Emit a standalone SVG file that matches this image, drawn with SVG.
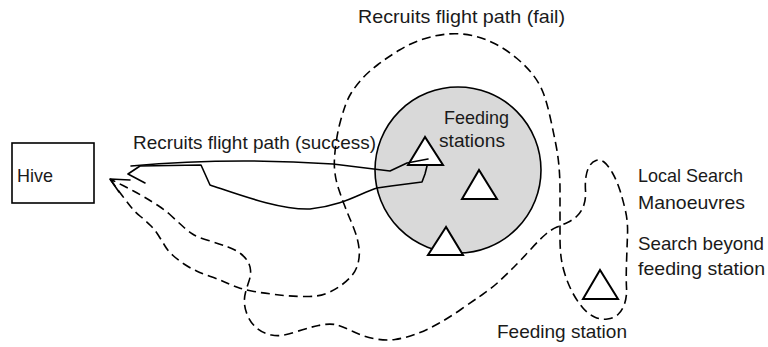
<svg xmlns="http://www.w3.org/2000/svg" width="768" height="347" viewBox="0 0 768 347">
<style>
text{font-family:"Liberation Sans",Arial,sans-serif;font-size:18.5px;fill:#1a1a1a}
.ln{fill:none;stroke:#000;stroke-width:1.6;stroke-linejoin:round;stroke-linecap:round}
.dash{stroke-dasharray:9 5;stroke-linecap:butt}
.tri{fill:#fff;stroke:#000;stroke-width:2;stroke-linejoin:miter}
</style>
<rect width="768" height="347" fill="#fff"/>
<g id="hive">
<rect x="12" y="143" width="82" height="60" fill="#fff" stroke="#000" stroke-width="1.6"/>
<text x="17" y="182" textLength="36" lengthAdjust="spacingAndGlyphs">Hive</text>
</g>
<g id="feeding-stations">
<circle cx="458" cy="170" r="83" fill="#d9d9d9" stroke="#000" stroke-width="1.6"/>
<polygon class="tri" points="425,137 408,165 443,165"/>
<polygon class="tri" points="479,170 462,199 497,199"/>
<polygon class="tri" points="446,227 428,255 463,255"/>
<text x="444" y="124" textLength="65" lengthAdjust="spacingAndGlyphs">Feeding</text>
<text x="439" y="147" textLength="66" lengthAdjust="spacingAndGlyphs">stations</text>
</g>
<g id="feeding-station">
<polygon class="tri" points="600,270 583,299 618,299"/>
<text x="497" y="338" textLength="130" lengthAdjust="spacingAndGlyphs">Feeding station</text>
</g>
<g id="labels">
<text x="133" y="149" textLength="243" lengthAdjust="spacingAndGlyphs">Recruits flight path (success)</text>
<text x="358" y="23" textLength="207" lengthAdjust="spacingAndGlyphs">Recruits flight path (fail)</text>
<text x="638" y="182" textLength="105" lengthAdjust="spacingAndGlyphs">Local Search</text>
<text x="638" y="209" textLength="107" lengthAdjust="spacingAndGlyphs">Manoeuvres</text>
<text x="638" y="250" textLength="126" lengthAdjust="spacingAndGlyphs">Search beyond</text>
<text x="638" y="275" textLength="127" lengthAdjust="spacingAndGlyphs">feeding station</text>
</g>
<g id="connectors">
<path class="ln" d="M131,166 Q230,157 333,164 L390,171 L407,163 L428,159"/>
<path class="ln" d="M427,166 L425,174 L422,182 L391,186 L377,188 C360,193 345,205 310,209 C280,210 240,195 210,185 L201,165 L140,166 L128,174 L145,183"/>
<path class="ln dash" d="M110,179 L114,184.5 Q118,190 122.5,196 Q127,202 131,207 Q135,212 140.5,216.5 Q146,221 150.5,225.5 Q155,230 158.5,235.5 Q162,241 165,246 Q168,251 173,255.5 Q178,260 184,264 Q190,268 196.5,271 Q203,274 210.5,276.5 Q218,279 224.5,282 Q231,285 238,287.5 Q245,290 254,291.5 Q263,293 275,294.5 Q287,296 302,296.5 Q317,297 325,294 Q333,291 339.5,286.5 Q346,282 351,276.5 Q356,271 358,263.5 Q360,256 359,248 Q358,240 355.5,233 Q353,226 350,219 Q347,212 344,204 Q341,196 338.5,188.5 Q336,181 335,173.5 Q334,166 334.5,158 Q335,150 336.5,140 Q338,130 340.5,121 Q343,112 345.5,105 Q348,98 351.5,92.5 Q355,87 361.5,79.5 Q368,72 378,64.5 Q388,57 399.5,50 Q411,43 423.5,39 Q436,35 448,34 Q460,33 472,35.5 Q484,38 495.5,44 Q507,50 517,58.5 Q527,67 533.5,75.5 Q540,84 543.5,93.5 Q547,103 550,116.5 Q553,130 555.5,142.5 Q558,155 559,166.5 Q560,178 560,190.5 Q560,203 560,215.5 Q560,228 560,238 Q560,248 561,256.5 Q562,265 565,274.5 Q568,284 572.5,292.5 Q577,301 582.5,307.5 Q588,314 594.5,317 Q601,320 607.5,319 Q614,318 618,314.5 Q622,311 624.5,304 Q627,297 626.5,287.5 Q626,278 626.5,263 Q627,248 627.5,235 Q628,222 625.5,211 Q623,200 620,190.5 Q617,181 612.5,173 Q608,165 604,162 Q600,159 596,160.5 Q592,162 589.5,166 Q587,170 586,176.5 Q585,183 585.5,190.5 Q586,198 584,204.5 Q582,211 577.5,215.5 Q573,220 567.5,222.5 Q562,225 557,227 Q552,229 546,234 Q540,239 530.5,249.5 Q521,260 514,267 Q507,274 499.5,281 Q492,288 482.5,294.5 Q473,301 461.5,309 Q450,317 438.5,323.5 Q427,330 416,334 Q405,338 395,339.5 Q385,341 373.5,338.5 Q362,336 353,331.5 Q344,327 337,325 Q330,323 318.5,325.5 Q307,328 294,332.5 Q281,337 271.5,335 Q262,333 256.5,328 Q251,323 248,316.5 Q245,310 244.5,304 Q244,298 245.5,292.5 Q247,287 249,281 Q251,275 250.5,270 Q250,265 247.5,261 Q245,257 240.5,253.5 Q236,250 228,247 Q220,244 208.5,240.5 Q197,237 192.5,234 Q188,231 183,226.5 Q178,222 171.5,216 Q165,210 158,205.5 Q151,201 145,197.5 Q139,194 133.5,191 Q128,188 123,185.5 Q118,183 114,181 L110,179"/>
<path class="ln" d="M130,180 L110,179 L119,192"/>
</g>
</svg>
